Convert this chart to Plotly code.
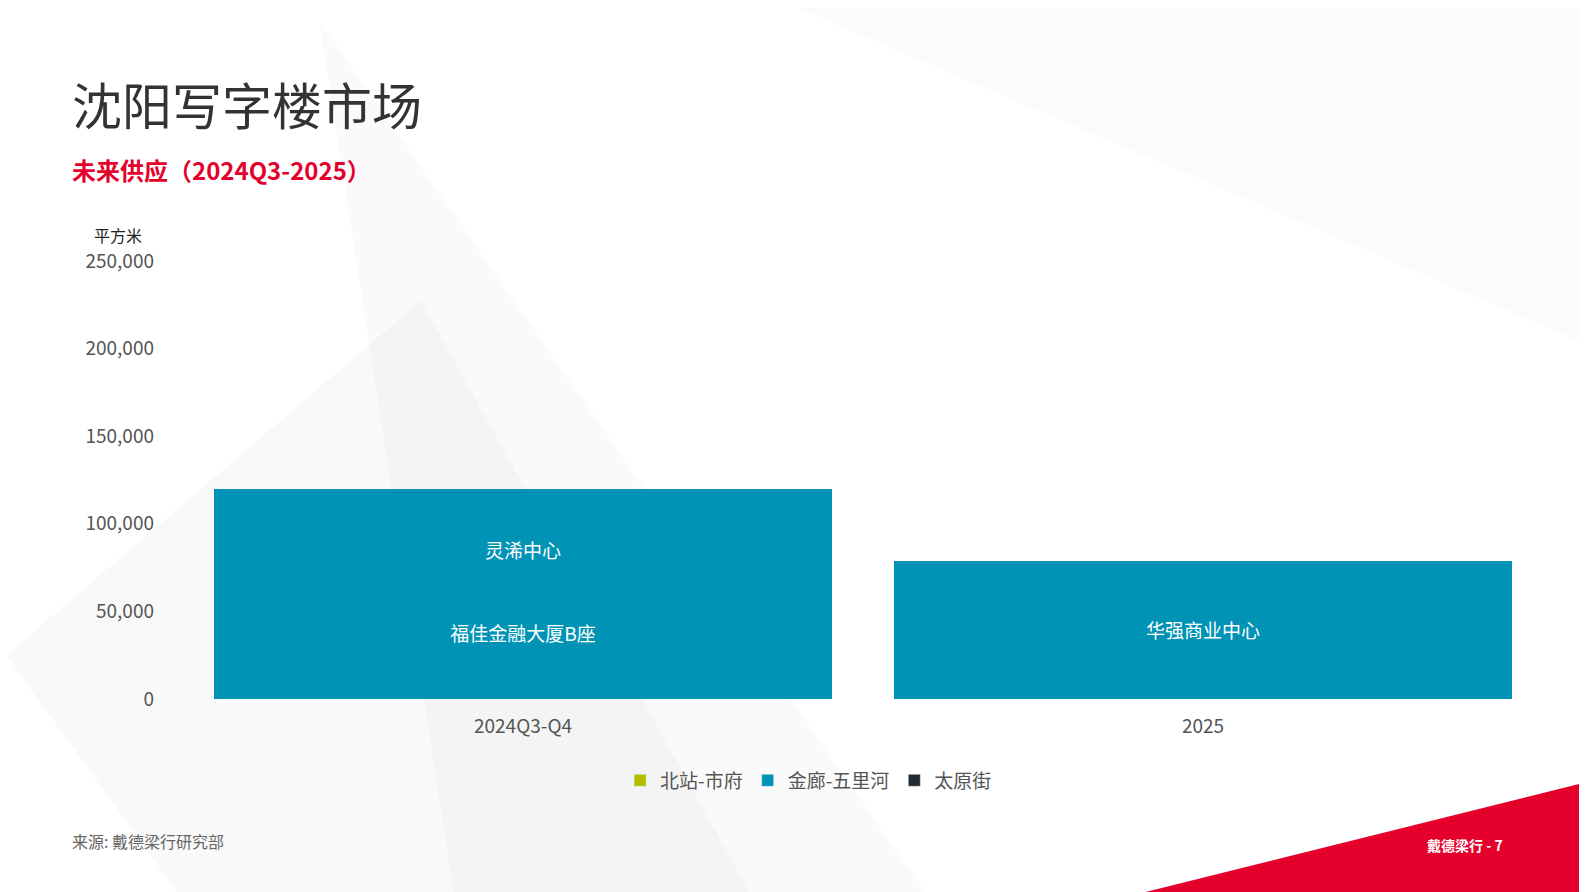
import plotly.graph_objects as go

categories = ["2024Q3-Q4", "2025"]
series_names = ["北站-市府", "金廊-五里河", "太原街"]
series_colors = ["#b5bd00", "#0093b5", "#212b33"]
projects_lower = ["福佳金融大厦B座", "华强商业中心"]
values_lower = [76000, 79000]
projects_upper = ["灵浠中心", ""]
values_upper = [44000, 0]
y_ticks = [0, 50000, 100000, 150000, 200000, 250000]

fig = go.Figure()
for name, col in zip(series_names, series_colors):
    fig.add_trace(go.Bar(x=categories, y=[0, 0], name=name, marker_color=col, showlegend=True, hoverinfo="skip"))
fig.add_trace(go.Bar(x=categories, y=values_lower, text=projects_lower, textposition="inside",
                     insidetextanchor="middle", marker=dict(color=series_colors[1], line_width=0), showlegend=False,
                     textfont=dict(color="white", size=19), hoverinfo="skip"))
fig.add_trace(go.Bar(x=categories, y=values_upper, text=projects_upper, textposition="inside",
                     insidetextanchor="start", marker=dict(color=series_colors[1], line_width=0), showlegend=False,
                     textfont=dict(color="white", size=19), hoverinfo="skip"))

font = "Noto Sans CJK SC"
fig.update_layout(
    width=1587, height=892, barmode="stack", bargap=0.09,
    paper_bgcolor="white", plot_bgcolor="rgba(0,0,0,0)",
    margin=dict(l=175, r=52, t=253, b=201),
    font=dict(family=font, color="#555"),
    xaxis=dict(showgrid=False, showline=False, tickfont=dict(size=19, color="#555"), ticks="", ticklabelstandoff=14,
               categoryorder="array", categoryarray=categories),
    yaxis=dict(range=[0, 250000], tickvals=y_ticks, tickformat=",", showgrid=False, zeroline=False,
               showline=False, tickfont=dict(size=19, color="#555"), ticklabelstandoff=28),
    legend=dict(orientation="h", x=0.46, xanchor="center", y=-0.186, yanchor="middle", bgcolor="rgba(0,0,0,0)",
                font=dict(size=19, color="#555"), traceorder="normal", itemwidth=30),
    uniformtext=dict(mode="show", minsize=19),
    shapes=[
        dict(type="path", xref="paper", yref="paper", path="M -0.13 0.1 L 0.175 0.91 L 0.42 -0.46 L 0.0 -0.46 Z",
             fillcolor="rgba(0,0,0,0.025)", line_width=0, layer="below"),
        dict(type="path", xref="paper", yref="paper", path="M 0.1 1.55 L 0.55 -0.46 L 0.2 -0.46 Z",
             fillcolor="rgba(0,0,0,0.02)", line_width=0, layer="below"),
        dict(type="path", xref="paper", yref="paper", path="M 0.45 1.58 L 1.04 0.8 L 1.04 1.58 Z",
             fillcolor="rgba(0,0,0,0.015)", line_width=0, layer="below"),
        dict(type="path", xref="paper", yref="paper",
             path="M 0.684 -0.459 L 1.038 -0.185 L 1.038 -0.459 Z",
             fillcolor="#e4002b", line_width=0, layer="below"),
    ],
    annotations=[
        dict(text="沈阳写字楼市场", xref="paper", yref="paper", x=-0.083, y=1.36, xanchor="left", yanchor="middle",
             showarrow=False, font=dict(size=50, color="#333", family=font)),
        dict(text="<b>未来供应（2024Q3-2025）</b>", xref="paper", yref="paper", x=-0.083, y=1.208, xanchor="left",
             yanchor="middle", showarrow=False, font=dict(size=24, color="#e4002b", family=font)),
        dict(text="平方米", xref="paper", yref="paper", x=-0.067, y=1.06, xanchor="left", yanchor="middle",
             showarrow=False, font=dict(size=16, color="#222", family=font)),
        dict(text="来源: 戴德梁行研究部", xref="paper", yref="paper", x=-0.083, y=-0.325, xanchor="left",
             yanchor="middle", showarrow=False, font=dict(size=16, color="#666", family=font)),
        dict(text="<b>戴德梁行 - 7</b>", xref="paper", yref="paper", x=0.943, y=-0.333, xanchor="center",
             yanchor="middle", showarrow=False, font=dict(size=14, color="white", family=font)),
    ],
)
fig.write_html("out.html")
